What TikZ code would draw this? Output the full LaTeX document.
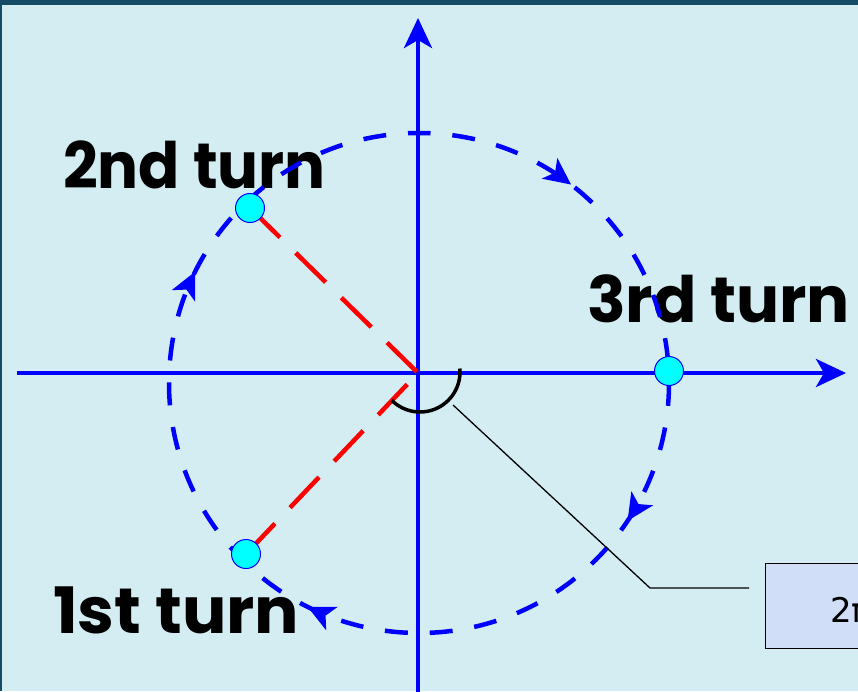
\documentclass[tikz,border=0pt]{standalone}
\usepackage{fontspec}
\newfontfamily\labfont{Poppins}
\newfontfamily\boxfont{DejaVu Sans}
\usetikzlibrary{arrows.meta}
\definecolor{bgc}{RGB}{212,237,242}
\definecolor{framec}{RGB}{22,75,102}
\definecolor{boxc}{RGB}{208,222,247}
\definecolor{ptc}{RGB}{0,255,255}
\newcommand\circarrow[1]{\fill[blue, shift={(c)}, rotate=#1] (250,2) -- (263,-25) -- (250,-18) -- (237,-25) -- cycle;}
\begin{document}
\begin{tikzpicture}[x=1pt,y=-1pt,
  lab/.style={inner sep=0pt, anchor=base west, font=\labfont\bfseries\fontsize{64}{70}\selectfont},
  axis/.style={blue, line width=4.5pt, -{Stealth[length=30pt,width=28pt,inset=8pt]}},
  redline/.style={red, line width=4.5pt, dash pattern=on 42pt off 22pt},
  circ/.style={blue, line width=4.5pt, dash pattern=on 23pt off 21.9pt, dash phase=11.5pt},
  pt/.style={circle, fill=ptc, draw=blue, line width=1pt, minimum size=29pt, inner sep=0pt},
  callout/.style={black, line width=1.3pt},
  anglearc/.style={black, line width=3.5pt}]
\useasboundingbox (0,0) rectangle (858,691);
\clip (0,0) rectangle (858,691);
\fill[bgc] (0,0) rectangle (858,691);
\fill[framec] (0,0) rectangle (858,5);
\fill[framec] (0,0) rectangle (2,691);
% labels
\node[lab, xscale=0.95] (t2) at (63,188) {2nd turn};
\node[lab] (t3) at (587,322) {3rd turn};
\node[lab, xscale=1.03] (t1) at (53,633) {1st turn};
% axes
\coordinate (o) at (418,373);
\coordinate (yb) at (418,695);
\coordinate (yt) at (418,18);
\coordinate (xl) at (17,373);
\coordinate (xr) at (846,373);
\draw[axis] (yb) -- (yt);
\draw[axis] (xl) -- (xr);
% points
\coordinate (c) at (419,383);
\coordinate (q2) at (250,208);
\coordinate (q1) at (246,554);
\coordinate (q3) at (669,371);
% red lines
\draw[redline] (q2) -- (o);
\draw[redline] (q1) -- (o);
% dashed circle
\draw[circ] (c) ++(-90:250) arc[start angle=-90, end angle=270, radius=250];
\circarrow{53}
\circarrow{-33}
\circarrow{-116}
\circarrow{154}
\node[pt] (p2) at (q2) {};
\node[pt] (p1) at (q1) {};
\node[pt] (p3) at (q3) {};
% angle arc
\coordinate (ac) at (420,372);
\draw[anglearc] (ac) ++(-5:40) arc[start angle=-5, end angle=135, radius=40];
% callout
\node[draw=black, line width=1.3pt, fill=boxc, minimum width=175pt, minimum height=85pt, anchor=north west, inner sep=0pt] (box) at (765,563) {};
\node[inner sep=0pt, anchor=base west, font=\boxfont\fontsize{34}{40}\selectfont] (v) at (830,622) {2π};
\coordinate (k1) at (453,405);
\coordinate (k2) at (650,588);
\coordinate (k3) at (749,588);
\draw[callout] (k1) -- (k2) -- (k3);
\end{tikzpicture}
\end{document}
